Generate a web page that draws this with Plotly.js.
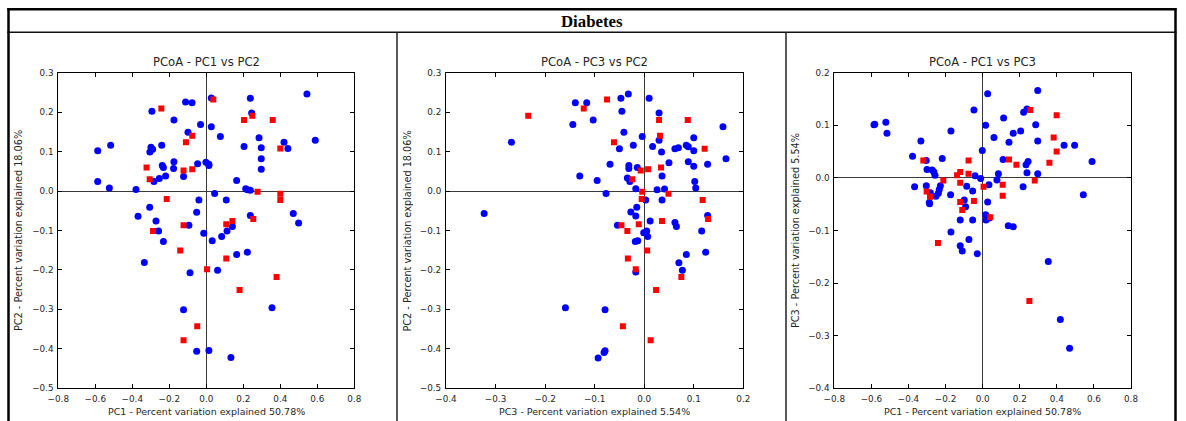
<!DOCTYPE html>
<html><head><meta charset="utf-8">
<script src="https://cdn.plot.ly/plotly-3.0.1.min.js"></script>
<style>html,body{margin:0;padding:0;background:#fff}#chart{width:1186px;height:421px}</style>
</head><body><div id="chart"></div>
<script>
// ---------- Panel 1: PC1 vs PC2 ----------
const p1BlueX = [-0.587,-0.517,-0.587,-0.524,-0.380,-0.369,-0.335,-0.294,-0.299,-0.290,-0.305,-0.241,-0.306,-0.272,-0.258,-0.283,-0.254,-0.238,-0.232,-0.220,-0.232,-0.175,-0.175,-0.177,-0.112,-0.077,-0.099,-0.031,-0.123,-0.047,-0.002,0.014,0.014,-0.040,-0.052,-0.094,-0.014,0.032,0.045,0.027,0.027,0.076,0.061,-0.088,-0.123,-0.052,0.014,0.133,0.108,0.112,0.083,0.141,0.164,0.164,0.222,0.204,0.213,0.222,0.238,0.238,0.238,0.245,0.285,0.297,0.297,0.297,0.420,0.441,0.470,0.499,0.544,0.589,0.355];
const p1BlueY = [0.102,0.116,0.024,0.008,0.004,-0.064,-0.181,0.202,0.111,0.106,0.099,0.116,-0.041,-0.076,-0.101,0.024,0.032,0.065,0.060,0.038,-0.128,0.180,0.074,0.057,0.226,0.224,0.149,0.169,0.037,0.069,0.073,0.068,0.065,-0.023,-0.054,-0.087,-0.107,-0.126,-0.006,0.236,0.163,0.138,-0.201,-0.207,-0.301,-0.406,-0.404,-0.422,-0.023,-0.101,-0.115,-0.090,0.027,-0.161,-0.155,0.113,0.006,0.003,0.002,-0.062,0.235,0.198,0.135,0.110,0.082,0.055,0.124,0.108,-0.057,-0.081,0.246,0.129,-0.296];
const p1RedX = [-0.243,-0.323,-0.306,-0.288,-0.214,-0.110,-0.076,-0.123,-0.076,-0.123,-0.141,0.004,-0.049,-0.123,0.038,0.108,0.141,0.108,0.180,0.204,0.249,0.359,0.400,0.277,0.400,0.400,0.254,0.380];
const p1RedY = [0.209,0.060,0.030,-0.101,-0.020,0.124,0.140,0.052,0.055,-0.087,-0.151,-0.198,-0.343,-0.378,0.232,-0.084,-0.076,-0.171,-0.251,0.180,0.191,0.180,0.108,-0.002,-0.007,-0.023,-0.071,-0.218];

// ---------- Panel 2: PC3 vs PC2 ----------
const p2BlueX = [-0.323,-0.268,-0.144,-0.139,-0.116,-0.103,-0.130,-0.095,-0.077,-0.069,-0.047,-0.032,-0.045,-0.041,-0.050,-0.022,-0.004,0.010,0.030,0.030,0.017,0.035,0.050,-0.031,-0.031,-0.014,-0.034,-0.029,-0.017,0.036,0.026,0.041,0.036,0.003,-0.015,-0.027,-0.017,-0.054,0.012,-0.001,0.005,0.007,-0.018,-0.013,-0.017,0.062,0.069,0.085,0.089,0.100,0.100,0.089,0.100,0.102,0.104,0.128,0.159,0.165,0.128,0.062,0.065,0.116,0.085,0.124,0.070,0.077,-0.159,-0.079,-0.079,-0.081,-0.093];
const p2BlueY = [-0.057,0.124,0.169,0.224,0.224,0.180,0.038,0.027,-0.006,0.068,0.235,0.246,0.202,0.149,0.107,0.116,0.138,0.235,0.198,0.129,0.113,0.099,0.072,0.065,0.057,0.060,0.033,0.024,0.006,0.038,0.003,0.005,-0.023,-0.023,-0.041,-0.053,-0.063,-0.087,-0.076,-0.106,-0.101,-0.115,-0.128,-0.126,-0.205,0.107,0.110,0.116,0.112,0.135,0.102,0.074,0.063,0.024,0.008,0.068,0.163,0.082,-0.062,-0.080,-0.090,-0.101,-0.161,-0.155,-0.182,-0.201,-0.296,-0.301,-0.405,-0.409,-0.423];
const p2RedX = [-0.234,-0.122,-0.075,-0.061,0.030,0.032,0.088,0.122,0.034,-0.007,0.008,-0.024,-0.004,-0.005,0.049,0.118,0.129,0.036,-0.046,-0.034,-0.011,-0.033,-0.017,0.006,0.024,0.075,-0.043,0.013];
const p2RedY = [0.191,0.209,0.232,0.124,0.180,0.140,0.180,0.107,0.060,0.052,0.055,0.030,-0.002,-0.020,-0.007,-0.023,-0.071,-0.076,-0.087,-0.101,-0.084,-0.171,-0.198,-0.151,-0.251,-0.218,-0.343,-0.378];

// ---------- Panel 3: PC1 vs PC3 ----------
const p3BlueX = [-0.586,-0.582,-0.522,-0.516,-0.333,-0.378,-0.367,-0.304,-0.300,-0.272,-0.263,-0.257,-0.304,-0.282,-0.288,-0.286,-0.252,-0.239,-0.234,-0.228,-0.218,-0.171,-0.173,-0.171,-0.121,-0.121,-0.110,-0.074,-0.029,-0.099,-0.092,-0.086,-0.054,-0.054,-0.047,-0.041,-0.011,-0.002,0.016,0.027,0.034,0.027,0.016,0.018,0.036,0.061,0.085,0.077,0.110,0.113,0.142,0.165,0.138,0.165,0.205,0.218,0.221,0.239,0.234,0.245,0.239,0.286,0.297,0.297,0.297,0.354,0.439,0.496,0.543,0.590,0.419,0.469];
const p3BlueY = [0.101,0.102,0.106,0.085,0.070,0.041,-0.017,0.033,0.016,0.015,0.011,0.005,-0.015,-0.028,-0.047,-0.049,-0.035,-0.029,-0.022,-0.015,0.037,0.089,-0.032,-0.103,-0.080,-0.129,-0.139,-0.117,-0.144,-0.042,-0.055,-0.016,-0.025,-0.080,0.129,0.004,-0.001,0.052,0.100,0.160,-0.013,-0.046,-0.070,-0.080,-0.076,0.077,0.008,-0.004,0.035,0.114,0.068,0.085,-0.091,-0.093,0.089,-0.017,0.125,0.131,0.025,0.031,0.010,0.101,0.070,0.008,0.166,-0.159,0.062,0.062,-0.032,0.031,-0.269,-0.324];
const p3RedX = [-0.320,-0.302,-0.284,-0.212,-0.241,-0.138,-0.121,-0.121,-0.076,-0.076,-0.121,-0.110,-0.047,0.005,0.041,0.108,0.108,0.142,0.182,0.257,0.281,0.360,0.383,0.399,0.399,0.252];
const p3RedY = [0.033,-0.026,-0.036,-0.005,-0.124,0.005,0.011,-0.009,0.033,0.008,-0.046,-0.061,-0.044,-0.017,-0.075,-0.013,-0.034,0.035,0.025,0.129,-0.005,0.029,0.077,0.050,0.119,-0.234];

const groupNames = ['Group A','Group B'];
const panelTitles = ['PCoA - PC1 vs PC2','PCoA - PC3 vs PC2','PCoA - PC1 vs PC3'];
const xLabels = ['PC1 - Percent variation explained 50.78%','PC3 - Percent variation explained 5.54%','PC1 - Percent variation explained 50.78%'];
const yLabels = ['PC2 - Percent variation explained 18.06%','PC2 - Percent variation explained 18.06%','PC3 - Percent variation explained 5.54%'];
const mainTitle = 'Diabetes';

const W = 1186, H = 421;
const font = 'DejaVu Sans, Verdana, sans-serif';
const txt = '#262626';
const px = v => v / W, py = v => (H - v) / H;

const blueMk = {color:'#0000ff', size:7, symbol:'circle', line:{width:0}};
const redMk = {color:'#ff0000', size:6, symbol:'square', line:{width:0}};

const sets = [[p1BlueX,p1BlueY,p1RedX,p1RedY],[p2BlueX,p2BlueY,p2RedX,p2RedY],[p3BlueX,p3BlueY,p3RedX,p3RedY]];
const data = [];
sets.forEach((s,i)=>{
  const sx = i===0?'x':'x'+(i+1), sy = i===0?'y':'y'+(i+1);
  data.push({type:'scatter',mode:'markers',name:groupNames[0],x:s[0],y:s[1],xaxis:sx,yaxis:sy,marker:blueMk,showlegend:false,hoverinfo:'x+y'});
  data.push({type:'scatter',mode:'markers',name:groupNames[1],x:s[2],y:s[3],xaxis:sx,yaxis:sy,marker:redMk,showlegend:false,hoverinfo:'x+y'});
});

const plotLeft = [58.3, 446, 834.3], plotRight = [354.3, 743.3, 1131];
const plotTop = 72.7, plotBottom = 388.3;
const xRanges = [[-0.8,0.8],[-0.4,0.2],[-0.8,0.8]];
const yRanges = [[-0.5,0.3],[-0.5,0.3],[-0.4,0.2]];
const xD = [0.2,0.1,0.2];

function axis(dom, range, dtick, anchor){
  return {domain:dom, range:range, dtick:dtick, tick0:0, tickformat:'.1f',
    ticks:'inside', ticklen:4, tickwidth:1, tickcolor:'#000',
    showline:true, linecolor:'#000', linewidth:1, mirror:'ticks',
    showgrid:false, zeroline:true, zerolinecolor:'#3a3a3a', zerolinewidth:1,
    tickfont:{family:font,size:8.8,color:txt}, anchor:anchor, fixedrange:true, ticklabelstandoff:2};
}

const layout = {width:W,height:H,margin:{l:0,r:0,t:0,b:0},paper_bgcolor:'#fff',plot_bgcolor:'#fff',
  showlegend:false, annotations:[], shapes:[]};

for(let i=0;i<3;i++){
  const k = i===0?'':String(i+1);
  layout['xaxis'+k] = axis([px(plotLeft[i]),px(plotRight[i])], xRanges[i], xD[i], 'y'+k);
  layout['yaxis'+k] = axis([py(plotBottom),py(plotTop)], yRanges[i], 0.1, 'x'+k);
  const cx = (plotLeft[i]+plotRight[i])/2;
  layout.annotations.push({text:panelTitles[i],xref:'paper',yref:'paper',x:px(cx),y:py(61.5),xanchor:'center',yanchor:'middle',showarrow:false,font:{family:font,size:11.6,color:txt}});
  layout.annotations.push({text:xLabels[i],xref:'paper',yref:'paper',x:px(cx),y:py(411),xanchor:'center',yanchor:'middle',showarrow:false,font:{family:font,size:9.5,color:txt}});
}
const yLabX = [18.5, 407, 795.5];
for(let i=0;i<3;i++){
  layout.annotations.push({text:yLabels[i],xref:'paper',yref:'paper',x:px(yLabX[i]),y:py((plotTop+plotBottom)/2),xanchor:'center',yanchor:'middle',textangle:-90,showarrow:false,font:{family:font,size:9.7,color:txt}});
}
layout.annotations.push({text:'<b>'+mainTitle+'</b>',xref:'paper',yref:'paper',x:px(592),y:py(21),xanchor:'center',yanchor:'middle',showarrow:false,font:{family:'Liberation Serif, Times New Roman, serif',size:16.8,color:'#000'}});

// table frame
const L = {color:'#000'};
layout.shapes.push({type:'line',xref:'paper',yref:'paper',x0:px(7.3),x1:px(1176.5),y0:py(9.2),y1:py(9.2),line:{color:'#000',width:2.5}});
layout.shapes.push({type:'line',xref:'paper',yref:'paper',x0:px(7.3),x1:px(1176.5),y0:py(32.3),y1:py(32.3),line:{color:'#111',width:1.6}});
layout.shapes.push({type:'line',xref:'paper',yref:'paper',x0:px(8.5),x1:px(8.5),y0:py(8),y1:-0.01,line:{color:'#000',width:2.5}});
layout.shapes.push({type:'line',xref:'paper',yref:'paper',x0:px(1175.5),x1:px(1175.5),y0:py(8),y1:-0.01,line:{color:'#000',width:2.5}});
layout.shapes.push({type:'line',xref:'paper',yref:'paper',x0:px(397),x1:px(397),y0:py(32.3),y1:-0.01,line:{color:'#222',width:1.5}});
layout.shapes.push({type:'line',xref:'paper',yref:'paper',x0:px(786),x1:px(786),y0:py(32.3),y1:-0.01,line:{color:'#222',width:1.5}});

Plotly.newPlot('chart', data, layout, {staticPlot:true, displayModeBar:false});
</script></body></html>
